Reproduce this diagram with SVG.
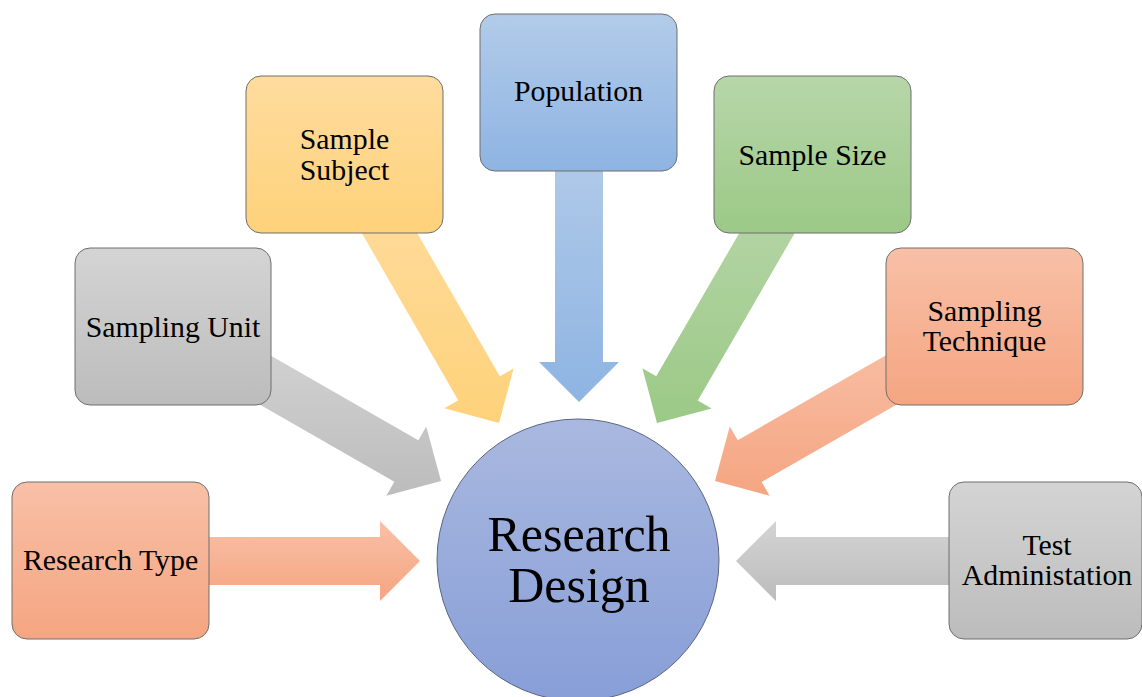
<svg xmlns="http://www.w3.org/2000/svg" width="1142" height="697" viewBox="0 0 1142 697">
  <defs>
    <linearGradient id="gOrange" x1="0" y1="0" x2="0" y2="1">
      <stop offset="0" stop-color="#F8C0A7"/>
      <stop offset="1" stop-color="#F5A581"/>
    </linearGradient>
    <linearGradient id="gYellow" x1="0" y1="0" x2="0" y2="1">
      <stop offset="0" stop-color="#FFDC9E"/>
      <stop offset="1" stop-color="#FED27A"/>
    </linearGradient>
    <linearGradient id="gBlue" x1="0" y1="0" x2="0" y2="1">
      <stop offset="0" stop-color="#B2CBE9"/>
      <stop offset="1" stop-color="#8EB4E2"/>
    </linearGradient>
    <linearGradient id="gGreen" x1="0" y1="0" x2="0" y2="1">
      <stop offset="0" stop-color="#B7D6A9"/>
      <stop offset="1" stop-color="#9BC986"/>
    </linearGradient>
    <linearGradient id="gGray" x1="0" y1="0" x2="0" y2="1">
      <stop offset="0" stop-color="#D4D4D4"/>
      <stop offset="1" stop-color="#BCBCBC"/>
    </linearGradient>
    <linearGradient id="gCircle" x1="0" y1="0" x2="0" y2="1">
      <stop offset="0" stop-color="#A9B8DF"/>
      <stop offset="1" stop-color="#879ED7"/>
    </linearGradient>
  </defs>
  <style>
    .box { stroke: #6E6E6E; stroke-width: 1; }
    .lbl { font-family: "Liberation Serif", "Times New Roman", serif; font-size: 29.8px; fill: #000; text-anchor: middle; }
    .big { font-family: "Liberation Serif", "Times New Roman", serif; font-size: 50px; fill: #000; text-anchor: middle; }
  </style>
  <rect width="1142" height="697" fill="#FFFFFF"/>

  <!-- block arrows pointing at the centre -->
  <g id="connectors">
    <polygon fill="url(#gOrange)" points="160.5,537 380,537 380,521 420,561 380,601 380,585 160.5,585"/>
    <polygon fill="url(#gGray)" points="995.5,537 776,537 776,521 736,561 776,601 776,585 995.5,585"/>
    <polygon fill="url(#gBlue)" points="555,142.5 555,362 539,362 579,402 619,362 603,362 603,142.5"/>
    <polygon fill="url(#gGray)" points="228.31,331.14 418.30,440.25 426.28,426.38 441,481 386.38,495.72 394.36,481.85 204.37,372.74"/>
    <polygon fill="url(#gYellow)" points="390.27,186.33 499.81,376.36 513.67,368.37 499,423 444.37,408.33 458.23,400.34 348.69,210.31"/>
    <polygon fill="url(#gGreen)" points="808.25,209.80 697.80,400.38 711.65,408.39 657,423 642.39,368.35 656.24,376.36 766.69,185.78"/>
    <polygon fill="url(#gOrange)" points="953.10,372.21 761.63,481.89 769.60,495.76 715,481 729.76,426.40 737.73,440.27 929.20,330.59"/>
  </g>

  <g id="research-type">
    <rect class="box" x="12" y="482" width="197" height="157" rx="15" fill="url(#gOrange)"/>
    <text class="lbl" x="110.5" y="569.5">Research Type</text>
  </g>
  <g id="sampling-unit">
    <rect class="box" x="75" y="248" width="196" height="157" rx="15" fill="url(#gGray)"/>
    <text class="lbl" x="173" y="336.5">Sampling Unit</text>
  </g>
  <g id="sample-subject">
    <rect class="box" x="246" y="76" width="197" height="157" rx="15" fill="url(#gYellow)"/>
    <text class="lbl" x="344.5" y="148.5">Sample</text>
    <text class="lbl" x="344.5" y="179.5">Subject</text>
  </g>
  <g id="population">
    <rect class="box" x="480" y="14" width="197" height="157" rx="15" fill="url(#gBlue)"/>
    <text class="lbl" x="578.5" y="100.5">Population</text>
  </g>
  <g id="sample-size">
    <rect class="box" x="714" y="76" width="197" height="157" rx="15" fill="url(#gGreen)"/>
    <text class="lbl" x="812.5" y="164.5">Sample Size</text>
  </g>
  <g id="sampling-technique">
    <rect class="box" x="886" y="248" width="197" height="157" rx="15" fill="url(#gOrange)"/>
    <text class="lbl" x="984.5" y="320.5">Sampling</text>
    <text class="lbl" x="984.5" y="351">Technique</text>
  </g>
  <g id="test-administation">
    <rect class="box" x="949" y="482" width="193" height="157" rx="15" fill="url(#gGray)"/>
    <text class="lbl" x="1047" y="554.5">Test</text>
    <text class="lbl" x="1047" y="584.5">Administation</text>
  </g>

  <g id="research-design">
    <circle cx="578" cy="560" r="141" fill="url(#gCircle)" stroke="#5C6680" stroke-width="1"/>
    <text class="big" x="579" y="550.5">Research</text>
    <text class="big" x="579" y="602">Design</text>
  </g>
</svg>
